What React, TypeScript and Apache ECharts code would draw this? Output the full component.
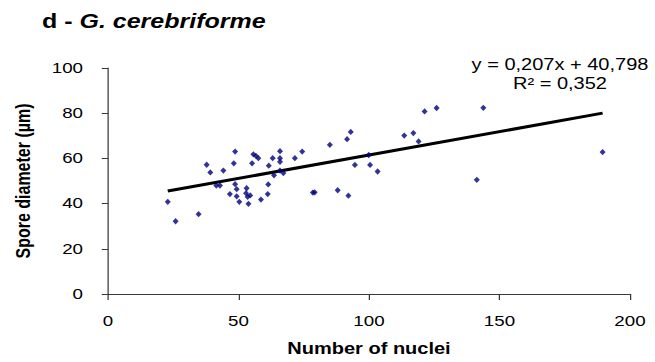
import React, { useEffect, useRef } from "react";
import * as echarts from "echarts";

// Number of nuclei per spore (x) and spore diameter in µm (y)
const nuclei = [
  22.9, 25.9, 34.7, 37.8, 39.2, 44.2, 48.2, 48.7, 41.5, 42.9,
  48.7, 49.3, 46.7, 49.3, 50.3, 53.1, 52.9, 54.5, 53.5, 53.8,
  58.6, 61.2, 61.4, 63.6, 61.6, 55.2, 55.7, 56.7, 57.6, 63.1,
  65.9, 65.9, 65.9, 65.9, 67.2, 71.6, 74.4, 78.5, 79.2, 85.0,
  88.0, 91.6, 93.0, 92.1, 94.6, 99.9, 100.4, 103.3, 113.5, 117.0,
  119.0, 121.3, 125.9, 141.3, 143.8, 189.5,
];
const diameter = [
  40.8, 32.2, 35.3, 57.2, 53.8, 54.6, 57.8, 63.0, 48.0, 48.0,
  48.6, 46.4, 44.2, 43.2, 40.8, 46.8, 44.6, 43.6, 43.0, 39.9,
  41.8, 44.2, 48.5, 52.5, 56.8, 57.8, 61.8, 61.1, 60.1, 60.1,
  63.2, 60.1, 58.5, 54.6, 53.5, 60.1, 63.0, 44.9, 45.0, 66.0,
  45.9, 68.5, 71.7, 43.5, 57.1, 61.5, 57.1, 54.2, 70.1, 71.2,
  67.5, 80.8, 82.3, 50.5, 82.4, 62.8,
];

// Linear trendline as stated in the equation label
const slope = 0.207;
const intercept = 40.798;
const rSquared = 0.352;

const xTicks = [0, 50, 100, 150, 200];
const yTicks = [0, 20, 40, 60, 80, 100];

const FONT = "'Liberation Sans', Arial, Helvetica, sans-serif";
const STRETCH = 1.25;
const PAGE_W = 655;
const PAGE_H = 362;

const fmt = (v: number, d: number) => v.toFixed(d).replace(".", ",");

export default function App() {
  const ref = useRef<HTMLDivElement>(null);

  useEffect(() => {
    if (!ref.current) return;
    const chart = echarts.init(ref.current, undefined, { renderer: "svg" });

    const points = nuclei.map((x, i) => [x, diameter[i]]);
    const xMin = Math.min(...nuclei);
    const xMax = Math.max(...nuclei);
    const trend = [
      [xMin, slope * xMin + intercept],
      [xMax, slope * xMax + intercept],
    ];

    const axisColor = "#3a3a3a";

    chart.setOption({
      animation: false,
      backgroundColor: "#ffffff",
      grid: { left: 86.4, right: 20, top: 68, bottom: 63, containLabel: false },
      graphic: [
        {
          type: "text",
          left: 33.6,
          top: 11,
          style: {
            text: "{n|d - }{i|G. cerebriforme}",
            rich: {
              n: { fontFamily: FONT, fontSize: 20, fontWeight: "bold", fill: "#000" },
              i: {
                fontFamily: FONT,
                fontSize: 20,
                fontWeight: "bold",
                fontStyle: "italic",
                fill: "#000",
              },
            },
          },
        },
        {
          type: "text",
          x: 448,
          y: 74,
          style: {
            text: `y = ${fmt(slope, 3)}x + ${fmt(intercept, 3)}\nR² = ${fmt(rSquared, 3)}`,
            fontFamily: FONT,
            fontSize: 16,
            lineHeight: 19,
            fill: "#000",
            align: "center",
            verticalAlign: "middle",
          },
        },
      ],
      xAxis: {
        type: "value",
        min: xTicks[0],
        max: xTicks[xTicks.length - 1],
        interval: xTicks[1] - xTicks[0],
        name: "Number of nuclei",
        nameLocation: "middle",
        nameGap: 47,
        nameTextStyle: { fontFamily: FONT, fontSize: 16, fontWeight: "bold", color: "#000" },
        axisLine: { show: true, onZero: false, lineStyle: { color: axisColor, width: 1 } },
        axisTick: { show: true, inside: false, length: 6, lineStyle: { color: axisColor } },
        axisLabel: { fontFamily: FONT, fontSize: 15, color: "#000", margin: 20 },
        splitLine: { show: false },
      },
      yAxis: {
        type: "value",
        min: yTicks[0],
        max: yTicks[yTicks.length - 1],
        interval: yTicks[1] - yTicks[0],
        name: "Spore diameter (µm)",
        nameLocation: "middle",
        nameGap: 60,
        nameRotate: 90,
        nameTextStyle: { fontFamily: FONT, fontSize: 16, fontWeight: "bold", color: "#000" },
        axisLine: { show: true, onZero: false, lineStyle: { color: axisColor, width: 1 } },
        axisTick: { show: true, inside: false, length: 5, lineStyle: { color: axisColor } },
        axisLabel: { fontFamily: FONT, fontSize: 15, color: "#000", margin: 20 },
        splitLine: { show: false },
      },
      series: [
        {
          type: "line",
          data: trend,
          symbol: "none",
          lineStyle: { color: "#000", width: 3 },
          z: 2,
        },
        {
          type: "scatter",
          data: points,
          symbol: "diamond",
          symbolSize: [4.8, 6.3],
          itemStyle: { color: "#00007a" },
          z: 3,
        },
      ],
    });

    return () => chart.dispose();
  }, []);

  return (
    <div
      style={{
        position: "fixed",
        left: 0,
        top: 0,
        width: PAGE_W,
        height: PAGE_H,
        overflow: "hidden",
        background: "#fff",
      }}
    >
      <div
        ref={ref}
        style={{
          width: PAGE_W / STRETCH,
          height: PAGE_H,
          transform: `scaleX(${STRETCH})`,
          transformOrigin: "0 0",
        }}
      />
    </div>
  );
}
